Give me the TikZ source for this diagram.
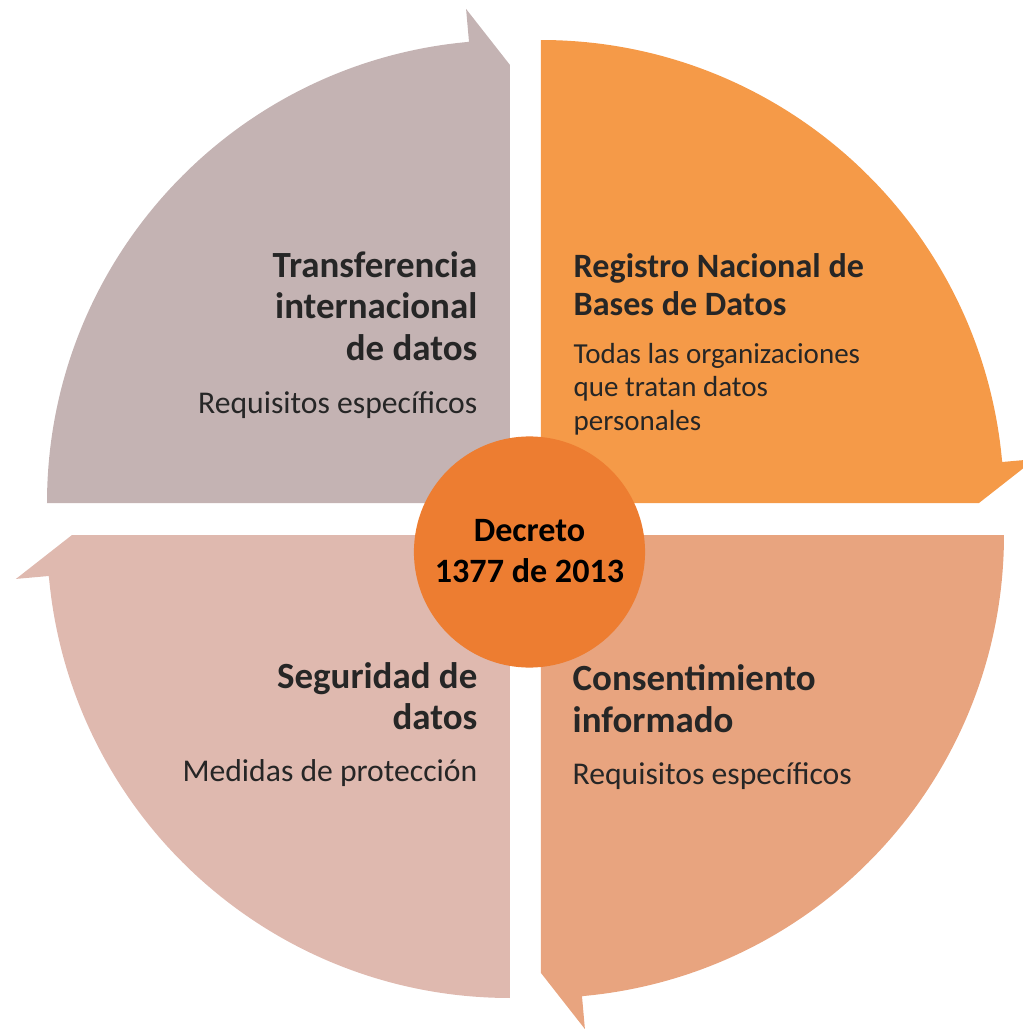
\documentclass[tikz,border=0pt]{standalone}
\usepackage{fontspec}
\setmainfont{Carlito}
\usetikzlibrary{calc}

\definecolor{quadTL}{HTML}{C4B3B3}
\definecolor{quadTR}{HTML}{F59A48}
\definecolor{quadBR}{HTML}{E8A47F}
\definecolor{quadBL}{HTML}{DFB9AF}
\definecolor{hub}{HTML}{ED7D31}
\definecolor{txtgray}{HTML}{262626}

\tikzset{
  head/.style={font=\bfseries\fontsize{10.5}{11.7}\selectfont,text=txtgray,inner sep=0pt},
  body/.style={font=\fontsize{9}{10.2}\selectfont,text=txtgray,inner sep=0pt},
  headsmall/.style={font=\bfseries\fontsize{9.7}{10.8}\selectfont,text=txtgray,inner sep=0pt},
  bodysmall/.style={font=\fontsize{8.25}{9.5}\selectfont,text=txtgray,inner sep=0pt}
}

\begin{document}
\begin{tikzpicture}[x=0.01cm,y=0.01cm]
\useasboundingbox (0,0) rectangle (1023,1029);
\clip (0,0) rectangle (1023,1029);

\coordinate (tl) at (510,526);
\coordinate (tr) at (541,526);
\coordinate (bl) at (510,494);
\coordinate (br) at (541,494);

% four arrow segments of the ring
\fill[quadTL] (tl) -- ++(180:463) arc[start angle=180,end angle=95.08,radius=463]
  -- ($(tl)+(95.08:496)$) -- ($(tl)+(90:438)$) -- cycle;
\fill[quadTR] (tr) -- ++(90:463) arc[start angle=90,end angle=5.08,radius=463]
  -- ($(tr)+(5.08:496)$) -- ($(tr)+(0:438)$) -- cycle;
\fill[quadBR] (br) -- ++(0:463) arc[start angle=0,end angle=-84.92,radius=463]
  -- ($(br)+(-84.92:496)$) -- ($(br)+(-90:438)$) -- cycle;
\fill[quadBL] (bl) -- ++(270:463) arc[start angle=270,end angle=185.08,radius=463]
  -- ($(bl)+(185.08:496)$) -- ($(bl)+(180:438)$) -- cycle;

% centre
\node[circle,fill=hub,minimum size=2.31cm,inner sep=0pt] (hub) at (529.5,477) {};
\node[font=\bfseries\fontsize{9.7}{11.7}\selectfont,align=center,anchor=base,inner sep=0pt] (decreto) at (529.5,446) {Decreto\\1377 de 2013};

% texts (base = last line)
\node[head,align=right,anchor=base east] (transf) at (478,669) {Transferencia\\internacional\\de datos};
\node[body,anchor=base east] (transfreq) at (478,616) {Requisitos específicos};

\node[headsmall,align=left,anchor=base west] (registro) at (573,714) {Registro Nacional de\\Bases de Datos};
\node[bodysmall,align=left,anchor=base west] (registroorg) at (573,599) {Todas las organizaciones\\que tratan datos\\personales};

\node[head,align=left,anchor=base west] (consent) at (572,297) {Consentimiento\\informado};
\node[body,anchor=base west] (consentreq) at (572,245) {Requisitos específicos};

\node[head,align=right,anchor=base east] (segur) at (478,299) {Seguridad de\\datos};
\node[body,anchor=base east] (segurmed) at (478,248) {Medidas de protección};

\end{tikzpicture}
\end{document}
